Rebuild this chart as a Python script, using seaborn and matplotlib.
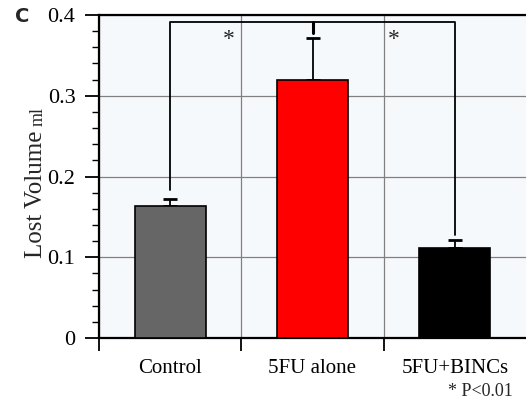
import numpy as np
import matplotlib.pyplot as plt
import seaborn as sns
from matplotlib.ticker import MultipleLocator, FixedLocator

# data
groups = ['Control', '5FU alone', '5FU+BINCs']
lost_volume = [0.163, 0.320, 0.111]
sem = [0.009, 0.052, 0.010]
bar_colors = ['#666666', '#ff0000', '#000000']
sig_level = 0.391
p_note = '* P<0.01'

sns.set_theme(style='white')
plt.rcParams['font.family'] = ['Liberation Serif', 'DejaVu Serif']

fig = plt.figure(figsize=(5.26, 4.03), dpi=100)
ax = fig.add_axes([99 / 526, 65 / 403, 427 / 526, 323 / 403])
ax.set_facecolor('#f6f9fc')

sns.barplot(x=groups, y=lost_volume, hue=groups, palette=bar_colors,
            saturation=1, width=0.5, edgecolor='black', linewidth=1.2,
            legend=False, errorbar=None, ax=ax, zorder=3)

x = np.arange(len(groups))
ax.errorbar(x, lost_volume, yerr=[np.zeros(len(sem)), sem], fmt='none',
            ecolor='black', elinewidth=1.3, capsize=5, capthick=2, zorder=2)

# significance brackets
top = np.array(lost_volume) + np.array(sem)
ax.plot([x[0], x[0], x[2], x[2]],
        [top[0] + 0.011, sig_level, sig_level, top[2] + 0.007],
        color='black', lw=1.3, zorder=5)
ax.plot([x[1], x[1]], [sig_level, top[1] + 0.006], color='black', lw=2.2, zorder=5)
ax.text(0.41, 0.370, '*', ha='center', va='center', fontsize=17, zorder=5)
ax.text(1.57, 0.370, '*', ha='center', va='center', fontsize=17, zorder=5)

ax.set_xlim(-0.5, 2.5)
ax.set_ylim(0, 0.4)

# y axis ticks
ax.yaxis.set_major_locator(MultipleLocator(0.1))
ax.yaxis.set_minor_locator(MultipleLocator(0.02))
ax.set_yticks([0, 0.1, 0.2, 0.3, 0.4])
ax.set_yticklabels(['0', '0.1', '0.2', '0.3', '0.4'], fontsize=16)
ax.tick_params(axis='y', which='major', direction='out', length=10, width=1.3,
               pad=7, colors='black', left=True)
ax.tick_params(axis='y', which='minor', direction='out', length=5, width=1.0,
               left=True, color='black')

# x axis: boundary ticks (major, with grid) and centred labels (minor)
ax.xaxis.set_major_locator(FixedLocator([-0.5, 0.5, 1.5]))
ax.xaxis.set_minor_locator(FixedLocator(x))
ax.set_xticklabels([], minor=False)
ax.set_xticklabels(groups, minor=True, fontsize=15)
ax.tick_params(axis='x', which='major', direction='out', length=9, width=1.3,
               bottom=True, color='black')
ax.tick_params(axis='x', which='minor', length=0, pad=15, colors='black')

ax.grid(True, which='major', color='#808080', lw=0.9, zorder=0)
ax.set_axisbelow(True)

for side in ['left', 'bottom', 'top']:
    ax.spines[side].set_visible(True)
    ax.spines[side].set_color('black')
    ax.spines[side].set_linewidth(1.6)
ax.spines['right'].set_visible(False)

ax.set_xlabel('')
ax.set_ylabel('')
fig.text(36 / 526, 1 - 194 / 403, 'Lost Volume', rotation=90, ha='center',
         va='center', fontsize=18)
fig.text(38 / 526, 1 - 117 / 403, 'ml', rotation=90, ha='center',
         va='center', fontsize=13)
fig.text(22 / 526, 1 - 16 / 403, 'C', ha='center', va='center', fontsize=14,
         fontweight='bold', family=['DejaVu Sans'])
fig.text(480 / 526, 1 - 392 / 403, p_note, ha='center', va='center', fontsize=13)

fig.savefig('out.png', dpi=100)
